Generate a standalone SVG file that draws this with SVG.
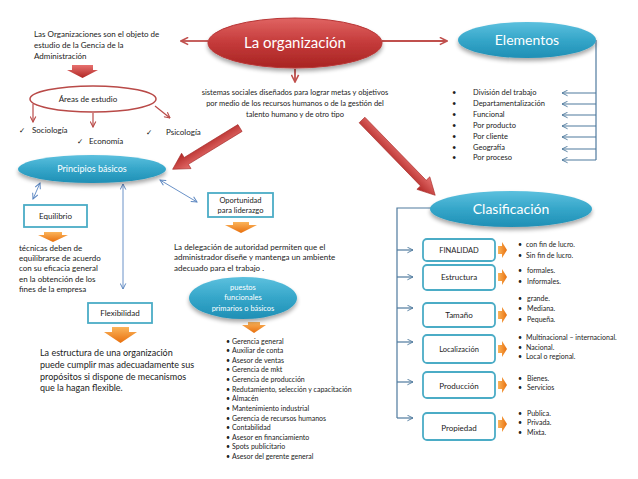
<svg xmlns="http://www.w3.org/2000/svg" width="638" height="479" viewBox="0 0 638 479">
<defs>
<linearGradient id="gRed" x1="0" y1="0" x2="0" y2="1"><stop offset="0" stop-color="#e06462"/><stop offset="0.5" stop-color="#c43a3a"/><stop offset="1" stop-color="#a82422"/></linearGradient>
<linearGradient id="gTeal" x1="0" y1="0" x2="0" y2="1"><stop offset="0" stop-color="#5cc0de"/><stop offset="0.5" stop-color="#35a6c9"/><stop offset="1" stop-color="#1f8fb5"/></linearGradient>
<linearGradient id="gOr" x1="0" y1="0" x2="0" y2="1"><stop offset="0" stop-color="#fbb45a"/><stop offset="1" stop-color="#e8700e"/></linearGradient>
<linearGradient id="gOrH" x1="0" y1="0" x2="1" y2="0"><stop offset="0" stop-color="#fbb45a"/><stop offset="1" stop-color="#e8700e"/></linearGradient>
<linearGradient id="gArr" x1="0" y1="0" x2="0" y2="1"><stop offset="0" stop-color="#e7716f"/><stop offset="1" stop-color="#b02624"/></linearGradient>
<filter id="sh" x="-20%" y="-20%" width="140%" height="160%"><feGaussianBlur in="SourceAlpha" stdDeviation="2"/><feOffset dy="3"/><feComponentTransfer><feFuncA type="linear" slope="0.35"/></feComponentTransfer><feMerge><feMergeNode/><feMergeNode in="SourceGraphic"/></feMerge></filter>
<marker id="mRed" viewBox="0 0 10 10" refX="9" refY="5" markerWidth="7" markerHeight="7" markerUnits="userSpaceOnUse" orient="auto"><path d="M1,1 L9,5 L1,9" fill="none" stroke="#b94a48" stroke-width="1.6"/></marker>
<marker id="mRedF" viewBox="0 0 10 10" refX="9" refY="5" markerWidth="9" markerHeight="9" markerUnits="userSpaceOnUse" orient="auto"><path d="M1,1 L9,5 L1,9" fill="none" stroke="#c0504d" stroke-width="1.8"/></marker>
<marker id="mBlue" viewBox="0 0 10 10" refX="9" refY="5" markerWidth="7" markerHeight="7" markerUnits="userSpaceOnUse" orient="auto-start-reverse"><path d="M1,1 L9,5 L1,9" fill="none" stroke="#5b86c0" stroke-width="1.4"/></marker>
<marker id="mSlate" viewBox="0 0 10 10" refX="9" refY="5" markerWidth="7" markerHeight="7" markerUnits="userSpaceOnUse" orient="auto"><path d="M1,1 L9,5 L1,9" fill="none" stroke="#4f7a9e" stroke-width="1.3"/></marker>
</defs>
<style>
text{font-family:Lato,"Liberation Sans",sans-serif;fill:#222}
.w{fill:#fff}
.c{text-anchor:middle}
.s8{font-size:8px}
.s75{font-size:7.5px}
.s7{font-size:7px}
.s9{font-size:9px}
.chk{font-family:"DejaVu Sans",sans-serif;font-size:7.5px;fill:#111}
.box{fill:#fff;stroke:#4bacc6;stroke-width:1.8}
.rbox{fill:#fff;stroke:#4bacc6;stroke-width:1.8}
.red{stroke:#c0504d;stroke-width:1.8;fill:none}
.dred{stroke:#b94a48;stroke-width:1.2;fill:none}
.blue{stroke:#6a92c8;stroke-width:1;fill:none}
.slate{stroke:#4f7a9e;stroke-width:1.2;fill:none}
.or{fill:url(#gOr)}
.orh{fill:url(#gOrH)}
.bigarr{fill:url(#gArr);stroke:#a52a28;stroke-width:0.6}
</style>
<rect width="638" height="479" fill="#fff"/>

<g id="connectors">
<line class="red" x1="208" y1="41" x2="181" y2="41" marker-end="url(#mRedF)"/>
<line class="red" x1="382" y1="41" x2="447" y2="41" marker-end="url(#mRedF)"/>
<line class="red" x1="295" y1="69" x2="295" y2="82" marker-end="url(#mRedF)"/>
<line class="dred" x1="33" y1="104" x2="33" y2="122" marker-end="url(#mRed)"/>
<line class="dred" x1="93" y1="113" x2="93" y2="127" marker-end="url(#mRed)"/>
<line class="dred" x1="155" y1="106" x2="170" y2="118" marker-end="url(#mRed)"/>
<polygon class="bigarr" transform="translate(240,128) rotate(148.5)" points="0,-4 63,-4 63,-9 79,0 63,9 63,4 0,4"/>
<polygon class="bigarr" transform="translate(362,120) rotate(45.8)" points="0,-4 88,-4 88,-9 105,0 88,9 88,4 0,4"/>
<line class="blue" x1="40" y1="183" x2="33" y2="199" marker-start="url(#mBlue)" marker-end="url(#mBlue)"/>
<line class="blue" x1="123" y1="184" x2="123" y2="289" marker-start="url(#mBlue)" marker-end="url(#mBlue)"/>
<line class="blue" x1="160" y1="180" x2="197" y2="202" marker-start="url(#mBlue)" marker-end="url(#mBlue)"/>
<polyline class="slate" points="596,40 596,160"/>
<line class="slate" x1="596" y1="93" x2="562" y2="93" marker-end="url(#mSlate)"/>
<line class="slate" x1="596" y1="104" x2="562" y2="104" marker-end="url(#mSlate)"/>
<line class="slate" x1="596" y1="115" x2="562" y2="115" marker-end="url(#mSlate)"/>
<line class="slate" x1="596" y1="126" x2="562" y2="126" marker-end="url(#mSlate)"/>
<line class="slate" x1="596" y1="137" x2="562" y2="137" marker-end="url(#mSlate)"/>
<line class="slate" x1="596" y1="149" x2="562" y2="149" marker-end="url(#mSlate)"/>
<line class="slate" x1="596" y1="160" x2="562" y2="160" marker-end="url(#mSlate)"/>
<polyline class="slate" points="431,208 397,208 397,418"/>
<line class="slate" x1="397" y1="250" x2="413" y2="250" marker-end="url(#mSlate)"/>
<line class="slate" x1="397" y1="277" x2="413" y2="277" marker-end="url(#mSlate)"/>
<line class="slate" x1="397" y1="308" x2="413" y2="308" marker-end="url(#mSlate)"/>
<line class="slate" x1="397" y1="342" x2="413" y2="342" marker-end="url(#mSlate)"/>
<line class="slate" x1="397" y1="382" x2="413" y2="382" marker-end="url(#mSlate)"/>
<line class="slate" x1="397" y1="418" x2="413" y2="418" marker-end="url(#mSlate)"/>
<polygon fill="url(#gArr)" points="72,65 93,65 93,70 98,70 82.5,78 67,70 72,70"/>
<polygon class="or" points="44,232 62,232 62,235 68,235 53,242 38,235 44,235"/>
<polygon class="or" points="233,222 249,222 249,225 257,225 241,233 225,225 233,225"/>
<polygon class="or" points="248,322 260,322 260,325 266,325 254,333 242,325 248,325"/>
<polygon class="or" points="112,327 129,327 129,332 137,332 120.5,343 104,332 112,332"/>
<polygon class="orh" points="498,246 502,246 502,242 507,250 502,258 502,254 498,254"/>
<polygon class="orh" points="498,273 502,273 502,269 507,277 502,285 502,281 498,281"/>
<polygon class="orh" points="498,311 502,311 502,307 507,315 502,323 502,319 498,319"/>
<polygon class="orh" points="498,345 502,345 502,341 507,349 502,357 502,353 498,353"/>
<polygon class="orh" points="498,381 502,381 502,377 507,385 502,393 502,389 498,389"/>
<polygon class="orh" points="498,420 502,420 502,416 507,424 502,432 502,428 498,428"/>
</g>

<g id="la-organizacion">
<ellipse cx="295" cy="43" rx="87" ry="25" fill="url(#gRed)" stroke="#b83535" stroke-width="1" filter="url(#sh)"/>
<text class="w c" x="295" y="48" font-size="15">La organización</text>
</g>

<g id="objeto">
<text class="s8" x="34" y="37"> Las Organizaciones son el objeto de</text>
<text class="s8" x="34" y="48">estudio de la Gencia de la</text>
<text class="s8" x="34" y="59">Administración</text>
</g>

<g id="sistemas">
<text class="s75 c" x="295" y="95">sistemas sociales diseñados para lograr metas y objetivos</text>
<text class="s75 c" x="295" y="106">por medio de los recursos humanos o de la gestión del</text>
<text class="s75 c" x="295" y="117">talento humano y de otro tipo</text>
</g>

<g id="elementos">
<ellipse cx="527" cy="40" rx="69" ry="18" fill="url(#gTeal)" filter="url(#sh)"/>
<text class="w c" x="527" y="45" font-size="14">Elementos</text>
</g>
<g id="elementos-lista" class="s75">
<text x="452" y="95">•</text><text x="473" y="95">División del trabajo</text>
<text x="452" y="106">•</text><text x="473" y="106">Departamentalización</text>
<text x="452" y="117">•</text><text x="473" y="117">Funcional</text>
<text x="452" y="128">•</text><text x="473" y="128">Por producto</text>
<text x="452" y="139">•</text><text x="473" y="139">Por cliente</text>
<text x="452" y="150">•</text><text x="473" y="150">Geografía</text>
<text x="452" y="160">•</text><text x="473" y="160">Por proceso</text>
</g>

<g id="areas">
<ellipse cx="93" cy="99" rx="63" ry="13" fill="#fff" stroke="#b94a48" stroke-width="1.5"/>
<text class="s8 c" x="88" y="102">Áreas de estudio</text>
</g>
<g id="areas-lista" class="s8">
<text class="chk" x="19" y="133">✓</text><text x="32" y="133">Sociología</text>
<text class="chk" x="77" y="144">✓</text><text x="89" y="144">Economía</text>
<text class="chk" x="146" y="135">✓</text><text x="166" y="135">Psicología</text>
</g>

<g id="principios">
<ellipse cx="92" cy="169" rx="74" ry="14" fill="url(#gTeal)" filter="url(#sh)"/>
<text class="w c s9" x="92" y="172">Principios básicos</text>
</g>

<g id="equilibrio">
<rect class="box" x="24" y="205" width="63" height="22"/>
<text class="c s8" x="55.5" y="219">Equilibrio</text>
</g>
<g id="equilibrio-texto" class="s8">
<text x="19" y="251"> técnicas deben de</text>
<text x="19" y="261">equilibrarse de acuerdo</text>
<text x="19" y="271">con su eficacia general</text>
<text x="19" y="282">en la obtención de los</text>
<text x="19" y="292">fines de la empresa</text>
</g>

<g id="flexibilidad">
<rect class="box" x="88" y="303" width="64" height="20"/>
<text class="c s8" x="120" y="316">Flexibilidad</text>
</g>
<g id="flexibilidad-texto" font-size="9">
<text x="40" y="356">La estructura de una organización</text>
<text x="40" y="368">puede cumplir mas adecuadamente sus</text>
<text x="40" y="380">propósitos si dispone de mecanismos</text>
<text x="40" y="391">que la hagan flexible.</text>
</g>

<g id="oportunidad">
<rect class="box" x="208" y="193" width="65" height="24"/>
<text class="c s75" x="240.5" y="203">Oportunidad</text>
<text class="c s75" x="240.5" y="213">para liderazgo</text>
</g>
<g id="delegacion" class="s8">
<text x="174" y="250">La delegación de autoridad permiten que el</text>
<text x="174" y="260">administrador diseñe y mantenga un ambiente</text>
<text x="174" y="271">adecuado para el trabajo .</text>
</g>

<g id="puestos">
<ellipse cx="243" cy="298" rx="54" ry="21" fill="url(#gTeal)" filter="url(#sh)"/>
<text class="w c s75" x="243" y="290">puestos</text>
<text class="w c s75" x="243" y="300">funcionales</text>
<text class="w c s75" x="243" y="311">primarios o básicos</text>
</g>
<g id="puestos-lista" class="s7">
<text x="226" y="344">•</text><text x="232" y="344">Gerencia general</text>
<text x="226" y="353">•</text><text x="232" y="353">Auxiliar de conta</text>
<text x="226" y="363">•</text><text x="232" y="363">Asesor de ventas</text>
<text x="226" y="372">•</text><text x="232" y="372">Gerencia de mkt</text>
<text x="226" y="382">•</text><text x="232" y="382">Gerencia de producción</text>
<text x="226" y="392">•</text><text x="232" y="392">Redutamiento, selección y capacitación</text>
<text x="226" y="401">•</text><text x="232" y="401">Almacén</text>
<text x="226" y="411">•</text><text x="232" y="411">Mantenimiento industrial</text>
<text x="226" y="421">•</text><text x="232" y="421">Gerencia de recursos humanos</text>
<text x="226" y="430">•</text><text x="232" y="430">Contabilidad</text>
<text x="226" y="440">•</text><text x="232" y="440">Asesor en financiamiento</text>
<text x="226" y="449">•</text><text x="232" y="449">Spots publicitario</text>
<text x="226" y="459">•</text><text x="232" y="459">Asesor del gerente general</text>
</g>

<g id="clasificacion">
<ellipse cx="511" cy="209" rx="81" ry="18" fill="url(#gTeal)" filter="url(#sh)"/>
<text class="w c" x="511" y="214" font-size="14">Clasificación</text>
</g>

<g id="finalidad">
<rect class="rbox" x="423" y="239" width="72" height="22" rx="4"/>
<text class="c s75" x="459" y="253">FINALIDAD</text>
</g>
<g id="estructura">
<rect class="rbox" x="423" y="265" width="72" height="25" rx="4"/>
<text class="c s8" x="459" y="280">Estructura</text>
</g>
<g id="tamano">
<rect class="rbox" x="423" y="303" width="72" height="24" rx="4"/>
<text class="c s8" x="459" y="318">Tamaño</text>
</g>
<g id="localizacion">
<rect class="rbox" x="423" y="335" width="72" height="28" rx="4"/>
<text class="c s75" x="459" y="352">Localización</text>
</g>
<g id="produccion">
<rect class="rbox" x="423" y="372" width="72" height="26" rx="4"/>
<text class="c s8" x="459" y="389">Producción</text>
</g>
<g id="propiedad">
<rect class="rbox" x="423" y="413" width="72" height="27" rx="4"/>
<text class="c s8" x="459" y="431">Propiedad</text>
</g>

<g id="clas-listas" class="s7">
<text x="518" y="247">•</text><text x="526" y="247">con fin de lucro.</text>
<text x="518" y="258">•</text><text x="526" y="258">Sin fin de lucro.</text>
<text x="518" y="273">•</text><text x="527" y="273">formales.</text>
<text x="518" y="284">•</text><text x="527" y="284">Informales.</text>
<text x="518" y="301">•</text><text x="527" y="301">grande.</text>
<text x="518" y="311">•</text><text x="527" y="311">Mediana.</text>
<text x="518" y="322">•</text><text x="527" y="322">Pequeña.</text>
<text x="518" y="340">•</text><text x="526" y="340">Multinacional – internacional.</text>
<text x="518" y="350">•</text><text x="526" y="350">Nacional.</text>
<text x="518" y="359">•</text><text x="526" y="359">Local o regional.</text>
<text x="518" y="381">•</text><text x="527" y="381">Bienes.</text>
<text x="518" y="390">•</text><text x="527" y="390">Servicios</text>
<text x="518" y="416">•</text><text x="527" y="416">Publica.</text>
<text x="518" y="425">•</text><text x="527" y="425">Privada.</text>
<text x="518" y="435">•</text><text x="527" y="435">Mixta.</text>
</g>
</svg>
